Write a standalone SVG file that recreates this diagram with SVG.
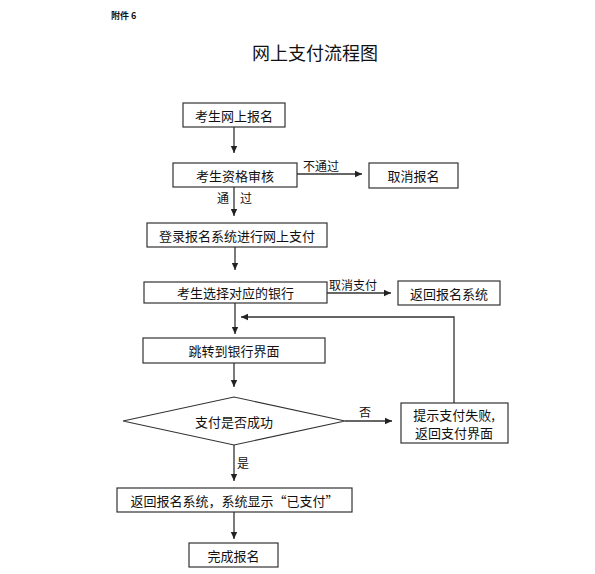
<svg xmlns="http://www.w3.org/2000/svg" width="595" height="574" viewBox="0 0 595 574">
<style>
text{font-family:"Noto Sans CJK SC","Noto Sans CJK JP",sans-serif;fill:#111;}
.t{font-size:13px;text-anchor:middle;dominant-baseline:central;}
.l{font-size:12px;}
.box{fill:#fff;stroke:#333;stroke-width:1.2;}
.c{fill:none;stroke:#333;stroke-width:1.3;}
</style>
<defs>
<marker id="ah" markerUnits="userSpaceOnUse" markerWidth="8" markerHeight="8" refX="7" refY="4" orient="auto">
<path d="M0,0.8 L7,4 L0,7.2 Z" fill="#222"/>
</marker>
</defs>
<rect width="595" height="574" fill="#fff"/>
<text x="111" y="19" style="font-size:9px;font-weight:bold">附件 6</text>
<text x="315" y="52" style="font-size:18px;text-anchor:middle;dominant-baseline:central">网上支付流程图</text>

<g id="connectors">
<line class="c" x1="234" y1="127" x2="234" y2="153" marker-end="url(#ah)"/>
<line class="c" x1="297" y1="174" x2="362" y2="174" marker-end="url(#ah)"/>
<line class="c" x1="234" y1="187" x2="234" y2="216" marker-end="url(#ah)"/>
<line class="c" x1="235" y1="247" x2="235" y2="270" marker-end="url(#ah)"/>
<line class="c" x1="327" y1="293" x2="391" y2="293" marker-end="url(#ah)"/>
<line class="c" x1="235" y1="303" x2="235" y2="334" marker-end="url(#ah)"/>
<polyline class="c" points="454,403 454,317 241,317" marker-end="url(#ah)"/>
<line class="c" x1="234" y1="363" x2="234" y2="387" marker-end="url(#ah)"/>
<line class="c" x1="345" y1="421" x2="392" y2="421" marker-end="url(#ah)"/>
<line class="c" x1="234" y1="445" x2="234" y2="481" marker-end="url(#ah)"/>
<line class="c" x1="234" y1="512" x2="234" y2="539" marker-end="url(#ah)"/>
<text class="l" x="303" y="171">不通过</text>
<text class="l" x="217" y="203">通</text>
<text class="l" x="240" y="203">过</text>
<text class="l" x="329" y="290">取消支付</text>
<text class="l" x="359" y="417">否</text>
<text class="l" x="237" y="468">是</text>
</g>

<g id="n1"><rect class="box" x="183" y="103" width="102" height="24"/><text class="t" x="234" y="115">考生网上报名</text></g>
<g id="n2"><rect class="box" x="173" y="163" width="124" height="24"/><text class="t" x="235" y="175">考生资格审核</text></g>
<g id="n3"><rect class="box" x="369" y="163" width="89" height="25"/><text class="t" x="413.5" y="175.5">取消报名</text></g>
<g id="n4"><rect class="box" x="147" y="223" width="180" height="24"/><text class="t" x="237" y="235">登录报名系统进行网上支付</text></g>
<g id="n5"><rect class="box" x="144" y="282" width="183" height="21"/><text class="t" x="235.5" y="292.5">考生选择对应的银行</text></g>
<g id="n6"><rect class="box" x="398" y="281" width="102" height="24"/><text class="t" x="449" y="293">返回报名系统</text></g>
<g id="n7"><rect class="box" x="143" y="338" width="182" height="25"/><text class="t" x="234" y="350.5">跳转到银行界面</text></g>
<g id="n8"><polygon class="box" points="123,421 234,397 345,421 234,445"/><text class="t" x="234" y="421">支付是否成功</text></g>
<g id="n9"><rect class="box" x="401" y="403" width="107" height="40"/><text class="t" x="454" y="414">提示支付失败,</text><text class="t" x="454" y="432">返回支付界面</text></g>
<g id="n10"><rect class="box" x="117" y="488" width="235" height="24"/><text class="t" x="234.5" y="500">返回报名系统，系统显示“已支付”</text></g>
<g id="n11"><rect class="box" x="189" y="543" width="89" height="24"/><text class="t" x="233.5" y="555">完成报名</text></g>
</svg>
